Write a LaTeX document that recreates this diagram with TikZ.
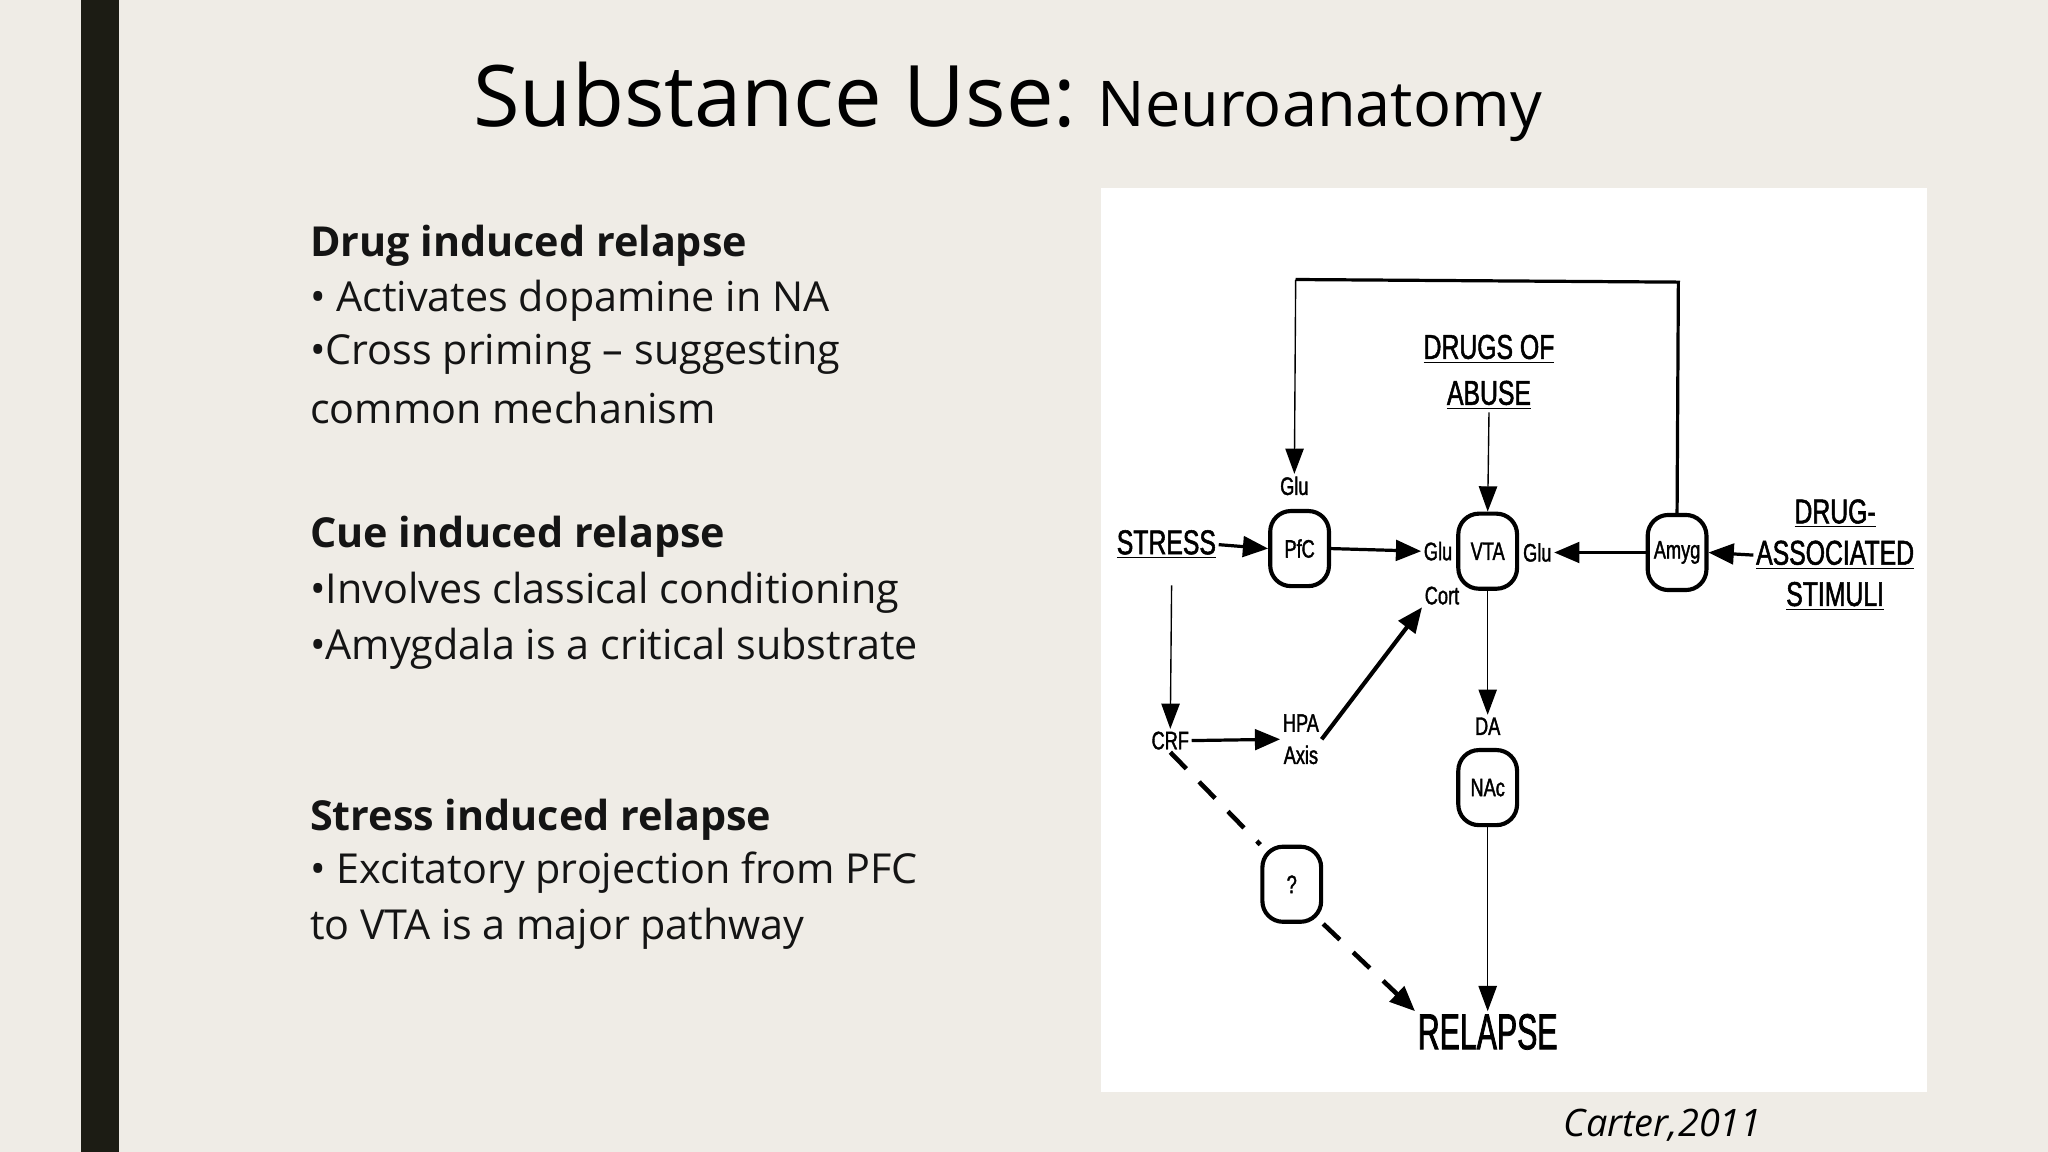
\documentclass[tikz,border=0pt]{standalone}
\usepackage{fontspec}
\setmainfont{Open Sans}
\newfontfamily\dfont[FakeStretch=0.72,FakeBold=1.5]{Liberation Sans}
\newfontfamily\rfont[FakeStretch=0.6,FakeBold=1.5]{Liberation Sans}
\usetikzlibrary{arrows.meta}
\definecolor{bg}{HTML}{EFECE6}
\definecolor{bar}{HTML}{1C1C14}
\begin{document}
\begin{tikzpicture}[x=0.02cm,y=-0.02cm,
  body/.style={anchor=west,inner sep=0,font=\fontsize{18}{20}\selectfont,text=black!92},
  head/.style={body,font=\fontsize{18}{20}\selectfont\bfseries},
  dt/.style={inner sep=1pt,font=\dfont\fontsize{11}{12}\selectfont},
  big/.style={inner sep=1pt,font=\dfont\fontsize{15}{16}\selectfont,align=center},
  box/.style={draw,line width=1.8pt,rounded corners=9pt,inner sep=0,minimum width=0.9cm,minimum height=1.15cm,font=\dfont\fontsize{11}{12}\selectfont},
  ar/.style={-{Triangle[length=11pt,width=8pt]},line width=0.6pt},
  arb/.style={-{Triangle[length=11pt,width=9pt]},line width=1.4pt}]
\fill[bg] (0,0) rectangle (1568,882);
\useasboundingbox (0,0) rectangle (1568,882);
\fill[bar] (62,0) rectangle (91,882);
\node[anchor=base west,inner sep=0] (title) at (362,97) {\fontsize{37}{40}\selectfont Substance Use:\hspace{0.25em}\fontsize{27.5}{30}\selectfont Neuroanatomy};
% left text
\node[head] (h1) at (237,188) {Drug induced relapse};
\node[body] (b1) at (237,230) {• Activates dopamine in NA};
\node[body] (b2) at (237,271) {•Cross priming – suggesting};
\node[body] (b3) at (237,312) {common mechanism};
\node[head] (h2) at (237,411) {Cue induced relapse};
\node[body] (b4) at (237,454) {•Involves classical conditioning};
\node[body] (b5) at (237,497) {•Amygdala is a critical substrate};
\node[head] (h3) at (237,628) {Stress induced relapse};
\node[body] (b6) at (237,668) {• Excitatory projection from PFC};
\node[body] (b7) at (237,711) {to VTA is a major pathway};
% diagram
\fill[white] (843,144) rectangle (1475,836);
\node[box] (pfc) at (995,420) {PfC};
\node[box] (vta) at (1139,422) {VTA};
\node[box] (amyg) at (1284,423) {Amyg};
\node[box] (nac) at (1139,603) {NAc};
\node[box] (q) at (989,677) {?};
\node[big] (stress) at (893,417) {\underline{STRESS}};
\node[big] (drugs) at (1140,285) {\underline{DRUGS OF}\\[4pt]\underline{ABUSE}};
\node[big] (stim) at (1405,425) {\underline{DRUG-}\\[2pt]\underline{ASSOCIATED}\\[2pt]\underline{STIMULI}};
\node[dt] (glup) at (991,372) {Glu};
\node[dt] (glul) at (1101,422) {Glu};
\node[dt] (glur) at (1177,423) {Glu};
\node[dt] (cort) at (1104,456) {Cort};
\node[dt] (da) at (1139,556) {DA};
\node[dt] (crf) at (896,567) {CRF};
\node[dt,align=center,font=\dfont\fontsize{11}{14}\selectfont] (hpa) at (996,566) {HPA\\Axis};
\node[inner sep=1pt,font=\rfont\fontsize{22}{24}\selectfont] (relapse) at (1139,790) {RELAPSE};
\node[anchor=base,inner sep=0,font=\itshape\fontsize{16.5}{18}\selectfont] (cite) at (1273,870) {Carter,2011};
\coordinate (tl) at (992,214);
\coordinate (tr) at (1285,216);
% connectors
\draw[line width=1.4pt] (amyg.north) -- (tr) -- (tl);
\draw[ar] (tl) -- (glup.north);
\draw[arb] (stress.east) -- (pfc.west);
\draw[arb] (pfc.east) -- (glul.west);
\draw[ar] (drugs.south) -- (vta.north);
\draw[arb] (amyg.west) -- (glur.east);
\draw[arb] (stim.west) -- (amyg.east);
\draw[ar] (stress.south) ++(4,18) -- (crf.north);
\draw[ar] (vta.south) -- (da.north);
\draw[ar] (nac.south) -- (relapse.north);
\draw[arb] (crf.east) -- (hpa.west);
\draw[arb,line width=1.8pt] (hpa.east) -- (cort.south west);
\draw[line width=2pt,dash pattern=on 10pt off 8pt] (crf.south) -- (q.north west);
\draw[arb,line width=2pt,dash pattern=on 10pt off 8pt] (q.south east) -- (relapse.north west);
\end{tikzpicture}
\end{document}
